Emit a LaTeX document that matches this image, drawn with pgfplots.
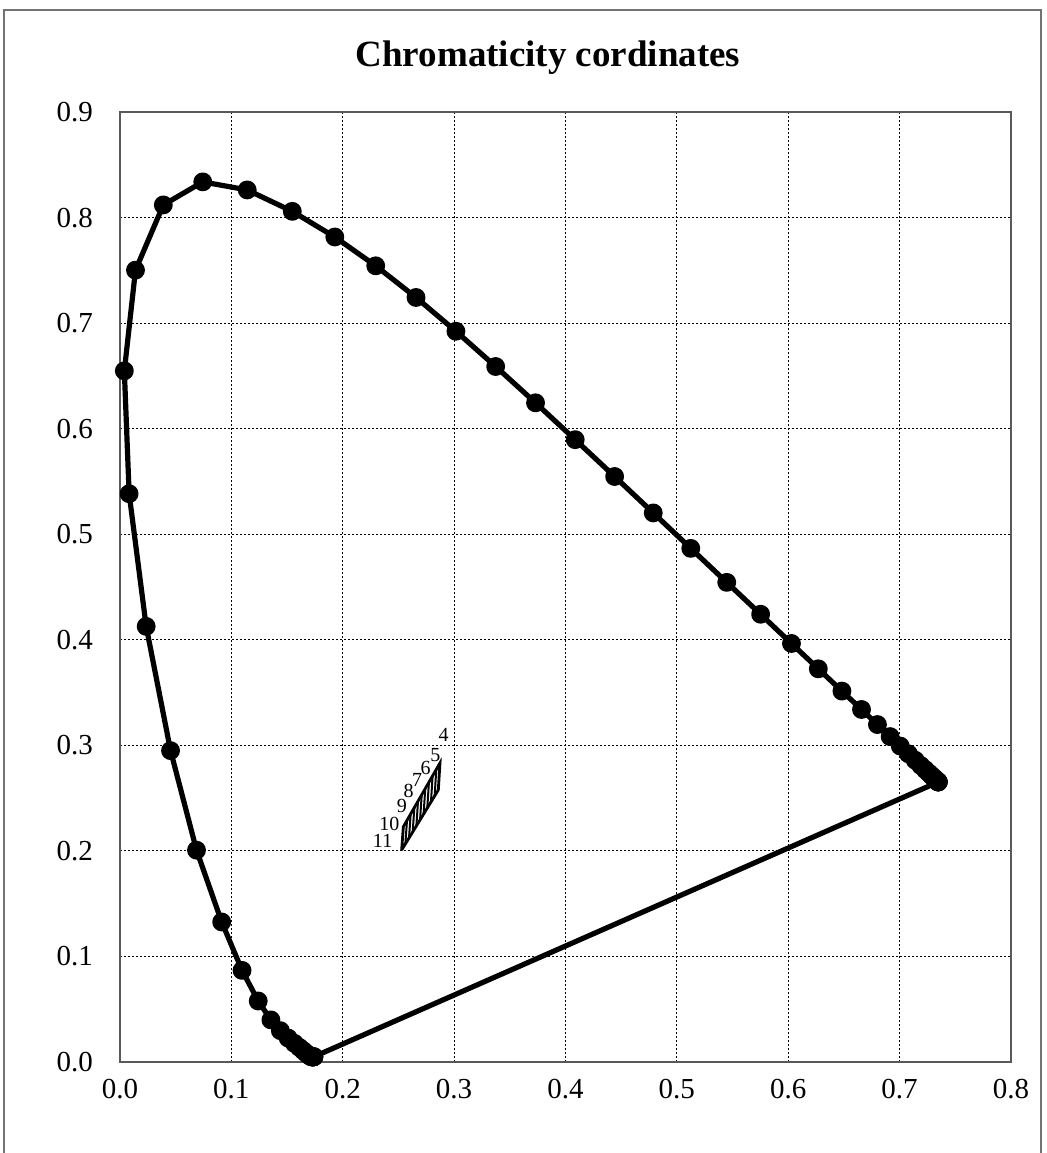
\documentclass[border=0pt]{standalone}
\usepackage{pgfplots}
\pgfplotsset{compat=1.18}
\usepackage{pgfplotstable}
\usepackage{fontspec}
\setmainfont{Liberation Serif}

\pgfplotstableread{
x y
0.1741 0.0050
0.1740 0.0050
0.1738 0.0049
0.1736 0.0049
0.1733 0.0048
0.1730 0.0048
0.1726 0.0048
0.1721 0.0048
0.1714 0.0051
0.1703 0.0058
0.1689 0.0069
0.1669 0.0086
0.1644 0.0109
0.1611 0.0138
0.1566 0.0177
0.1510 0.0227
0.1440 0.0297
0.1355 0.0399
0.1241 0.0578
0.1096 0.0868
0.0913 0.1327
0.0687 0.2007
0.0454 0.2950
0.0235 0.4127
0.0082 0.5384
0.0039 0.6548
0.0139 0.7502
0.0389 0.8120
0.0743 0.8338
0.1142 0.8262
0.1547 0.8059
0.1929 0.7816
0.2296 0.7543
0.2658 0.7243
0.3016 0.6923
0.3373 0.6589
0.3731 0.6245
0.4087 0.5896
0.4441 0.5547
0.4788 0.5202
0.5125 0.4866
0.5448 0.4544
0.5752 0.4242
0.6029 0.3965
0.6270 0.3725
0.6482 0.3514
0.6658 0.3340
0.6801 0.3197
0.6915 0.3083
0.7006 0.2993
0.7079 0.2920
0.7140 0.2859
0.7190 0.2809
0.7230 0.2770
0.7260 0.2740
0.7283 0.2717
0.7300 0.2700
0.7311 0.2689
0.7320 0.2680
0.7327 0.2673
0.7334 0.2666
0.7340 0.2660
0.7344 0.2656
0.7346 0.2654
0.7347 0.2653
0.7347 0.2653
0.7347 0.2653
0.1741 0.0050
}\locus

\pgfplotstableread{
x y
0.2529 0.2008
0.2858 0.2577
0.2873 0.2833
0.2544 0.2229
0.2529 0.2008
}\outline

\pgfplotstableread{
x y
0.2562 0.2065
0.2577 0.2289
nan nan
0.2595 0.2122
0.2610 0.2350
nan nan
0.2628 0.2179
0.2643 0.2410
nan nan
0.2661 0.2236
0.2676 0.2471
nan nan
0.2694 0.2293
0.2709 0.2531
nan nan
0.2726 0.2349
0.2741 0.2591
nan nan
0.2759 0.2406
0.2774 0.2652
nan nan
0.2792 0.2463
0.2807 0.2712
nan nan
0.2825 0.2520
0.2840 0.2773
}\hatch

\pgfplotstableread{
x y label
0.2905 0.3095 4
0.2832 0.2905 5
0.2745 0.2790 6
0.2668 0.2675 7
0.2592 0.2570 8
0.2530 0.2428 9
0.2418 0.2258 10
0.2358 0.2095 11
}\labels

\begin{document}
\begin{tikzpicture}
\useasboundingbox (0,0) rectangle (523pt,-576.5pt);
\draw[black!55, line width=0.7pt] (2pt,-600pt) -- (2pt,-5pt) -- (520.5pt,-5pt) -- (520.5pt,-600pt);
\node[font=\fontsize{18.5}{22}\selectfont\bfseries, anchor=base] at (274pt,-33pt) {Chromaticity cordinates};
\begin{axis}[
  at={(60pt,-531pt)}, anchor=south west,
  scale only axis, width=445.5pt, height=475pt,
  xmin=0, xmax=0.8, ymin=0, ymax=0.9,
  xtick={0,0.1,...,0.8}, ytick={0,0.1,...,0.9},
  xticklabels={0.0,0.1,0.2,0.3,0.4,0.5,0.6,0.7,0.8},
  yticklabels={0.0,0.1,0.2,0.3,0.4,0.5,0.6,0.7,0.8,0.9},
  major tick length=0pt,
  tick label style={font=\fontsize{14.5}{16}\selectfont},
  /pgf/number format/assume math mode=true,
  yticklabel style={xshift=-10pt},
  xticklabel style={yshift=-5pt},
  grid=major,
  major grid style={black, line width=0.5pt, dash pattern=on 1pt off 1pt},
  axis line style={black!65, line width=1pt},
  unbounded coords=jump,
  clip=false,
]
\addplot[black, line width=2.6pt, line join=round, mark=*, mark size=3.4pt] table {\locus};
\addplot[black, line width=1.4pt, line join=miter, mark=none] table {\outline};
\addplot[black, line width=1pt, mark=none] table {\hatch};
\addplot[draw=none, mark=none, nodes near coords, point meta=explicit symbolic,
  nodes near coords style={anchor=center, inner sep=0pt, font=\fontsize{10}{11}\selectfont}]
  table[meta=label] {\labels};
\end{axis}
\end{tikzpicture}
\end{document}
